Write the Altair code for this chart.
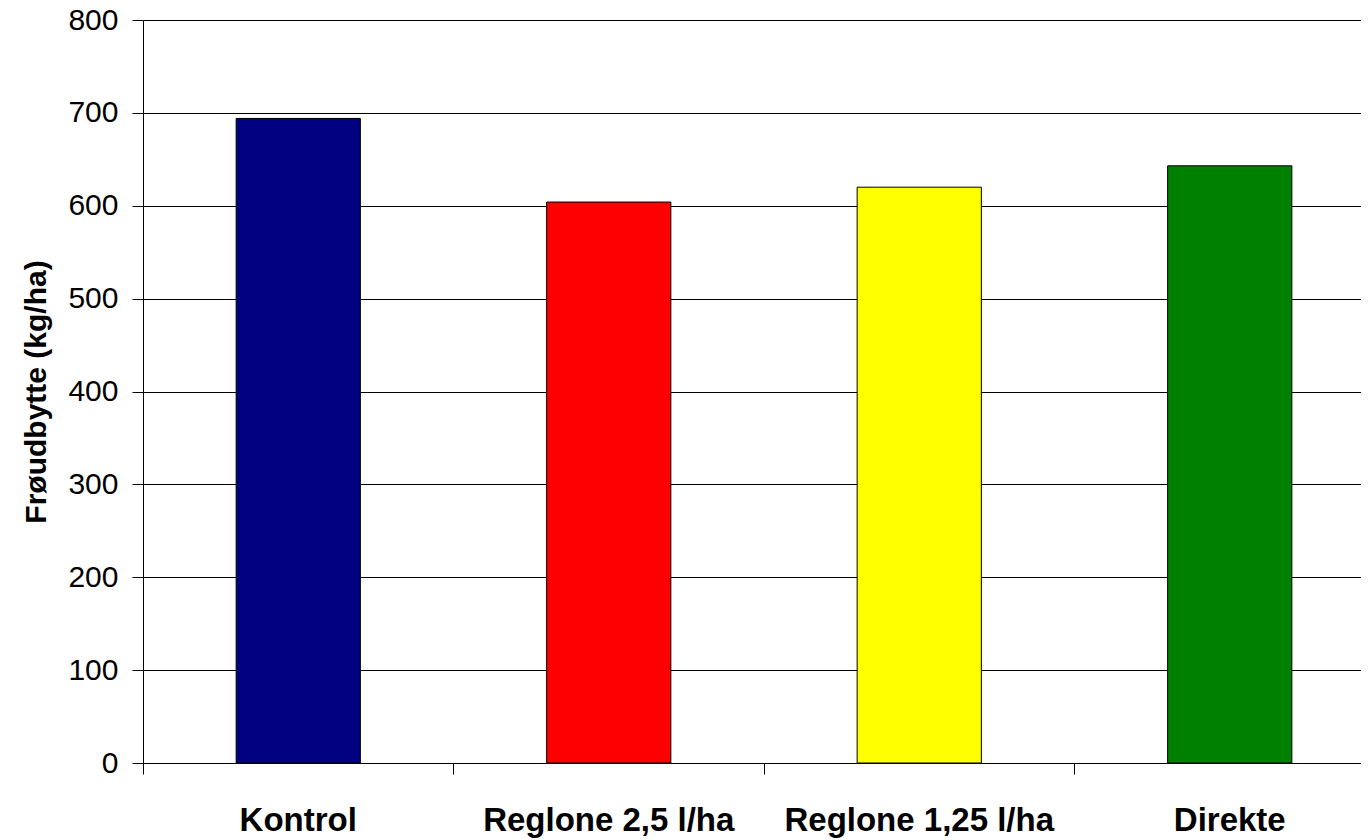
import altair as alt
import pandas as pd

categories = ["Kontrol", "Reglone 2,5 l/ha", "Reglone 1,25 l/ha", "Direkte"]
values = [694, 604, 620, 643]
colors = ["#000080", "#FF0000", "#FFFF00", "#008000"]

df = pd.DataFrame({"Behandling": categories, "Udbytte": values, "Farve": colors})

FONT = "Liberation Sans"
STEP = 310.5

chart = alt.Chart(df).mark_bar(
    width=alt.RelativeBandSize(0.4), stroke="black", strokeWidth=1
).encode(
    x=alt.X("Behandling:N", sort=categories,
            scale=alt.Scale(paddingInner=0, paddingOuter=0, range=[0, STEP * 4]),
            axis=alt.Axis(title=None, labelAngle=0, labelFont=FONT, labelFontSize=33,
                          labelFontWeight="bold", labelColor="black", labelPadding=30,
                          labelLimit=0, bandPosition=0,
                          tickSize=11, tickColor="black", domain=False, grid=False)),
    y=alt.Y("Udbytte:Q", scale=alt.Scale(domain=[0, 800], nice=False),
            axis=alt.Axis(title="Frøudbytte (kg/ha)", titleFont=FONT, titleFontSize=30,
                          titleFontWeight="bold", titleColor="black", titlePadding=16,
                          values=list(range(0, 801, 100)), labelFont=FONT,
                          labelFontSize=30, labelColor="black", labelPadding=14,
                          tickSize=11, tickColor="black", domainColor="black",
                          gridColor="black", gridWidth=1, gridOpacity=1)),
    color=alt.Color("Farve:N", scale=None),
).properties(
    width=1218, height=743,
    autosize=alt.AutoSizeParams(type="none"),
    padding={"left": 135, "top": 12, "right": 0, "bottom": 77},
).configure_view(stroke=None)

chart.save("out.html", embed_options={"renderer": "svg", "actions": False})
